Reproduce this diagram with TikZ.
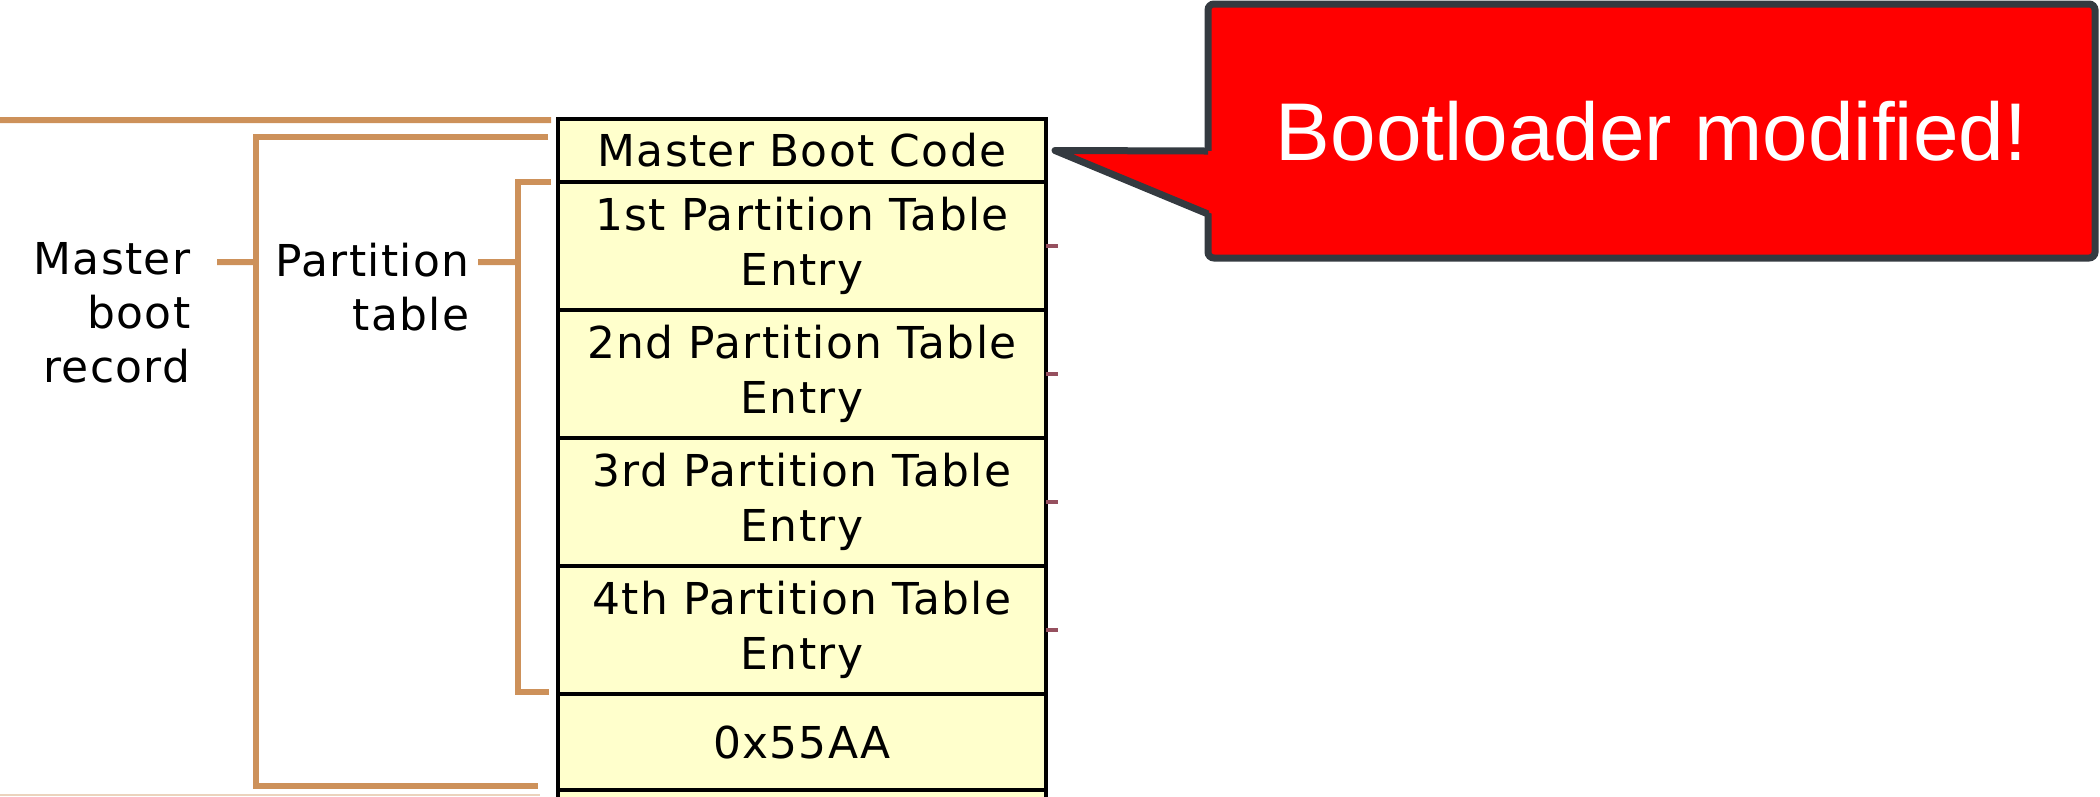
\documentclass[tikz,border=0pt]{standalone}
\usepackage{fontspec}
\newfontfamily\pixfont[LetterSpace=3]{DejaVu Sans}
\newfontfamily\notefont{Liberation Sans}
\usetikzlibrary{positioning, calc}

\definecolor{rowfill}{RGB}{255,255,204}
\definecolor{braceorange}{RGB}{205,145,90}
\definecolor{tickred}{RGB}{150,80,95}
\definecolor{calloutgray}{RGB}{52,58,64}
\definecolor{notered}{RGB}{255,0,0}

\begin{document}
\begin{tikzpicture}[
    x=1mm, y=1mm,
    node distance=0mm,
    row/.style={
      draw, line width=0.35mm, fill=rowfill, outer sep=0pt, inner sep=0pt,
      minimum width=48.8mm, align=center,
      font=\pixfont\fontsize{12.5pt}{15.6pt}\selectfont
    },
    entry/.style={row, minimum height=12.8mm},
    sidetext/.style={
      inner sep=0pt, align=right,
      font=\pixfont\fontsize{12.5pt}{15.4pt}\selectfont
    },
    brace/.style={draw=braceorange, line width=0.6mm},
    tick/.style={draw=tickred, line width=0.45mm},
    notebox/.style={
      draw=calloutgray, line width=0.7mm, fill=notered, rounded corners=0.6mm,
      outer sep=0pt, minimum width=88.7mm, minimum height=25.4mm,
      text=white, font=\notefont\fontsize{23.3pt}{28pt}\selectfont
    },
    tail/.style={draw=calloutgray, line width=0.7mm, line join=round}
]
\useasboundingbox (0,0) rectangle (210,-79.6);
\clip (0,0) rectangle (210,-79.6);

% Table
\node[row, minimum height=6.3mm] (mbc) at (80.2,-15.05) {Master Boot Code};
\node[entry, below=of mbc] (p1) {1st Partition Table\\Entry};
\node[entry, below=of p1] (p2) {2nd Partition Table\\Entry};
\node[entry, below=of p2] (p3) {3rd Partition Table\\Entry};
\node[entry, below=of p3] (p4) {4th Partition Table\\Entry};
\node[row, minimum height=9.6mm, below=of p4] (sig) {0x55AA};
\node[row, minimum height=6mm, below=of sig] (next) {};

% Labels
\node[sidetext, anchor=north east] (mbr) at (19.1,-24.2) {Master\\boot\\record};
\node[sidetext, anchor=north east] (pt) at (47.0,-24.2) {Partition\\table};

% Braces
\coordinate (mbrspine) at (25.6,-26.2);
\coordinate (ptspine) at (51.8,-26.2);
\coordinate (prevbrace) at (0,-12.0);
\coordinate (nextbrace) at (0,-79.5);

\draw[brace] (prevbrace) -- ([xshift=-0.7mm, yshift=-0.1mm]mbc.north west);
\draw[brace] ([xshift=-1mm, yshift=-1.8mm]mbc.north west) -| (mbrspine) |- ([xshift=-2mm, yshift=0.4mm]sig.south west);
\draw[brace] ([xshift=2.6mm, yshift=-2mm]mbr.north east) -- (mbrspine);
\draw[brace] ([xshift=-0.7mm]p1.north west) -| (ptspine) |- ([xshift=-0.9mm, yshift=0.2mm]p4.south west);
\draw[brace] ([xshift=0.8mm, yshift=-2mm]pt.north east) -- (ptspine);
\draw[brace, line width=0.15mm, draw=braceorange!40] (nextbrace) -- ++(54,0);

% Ticks on the right
\foreach \p in {p1,p2,p3,p4}
  \draw[tick] (\p.east) -- ++(1.2,0);

% Callout
\node[notebox] (note) at (165.15,-13.1) {Bootloader modified!};
\coordinate (tip) at ([xshift=0.9mm]mbc.east);
\fill[notered] ([xshift=0.5mm, yshift=-2mm]note.west) -- (tip) -- ([xshift=0.5mm, yshift=-8.3mm]note.west) -- cycle;
\draw[tail] ([yshift=-2mm]note.west) -- (tip) -- ([yshift=-8.3mm]note.west);

\end{tikzpicture}
\end{document}
